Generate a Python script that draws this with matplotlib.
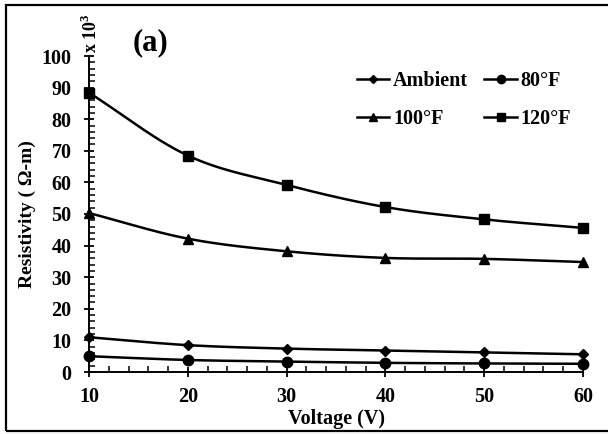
import numpy as np
import matplotlib
matplotlib.use("Agg")
import matplotlib.pyplot as plt
from matplotlib.lines import Line2D
from matplotlib.patches import Rectangle
from matplotlib.ticker import MultipleLocator

plt.rcParams['font.family'] = ['Liberation Serif', 'DejaVu Serif']
plt.rcParams['font.weight'] = 'bold'
plt.rcParams['mathtext.fontset'] = 'custom'
plt.rcParams['mathtext.rm'] = 'Liberation Serif:bold'
plt.rcParams['mathtext.bf'] = 'Liberation Serif:bold'

voltage = [10, 20, 30, 40, 50, 60]
ambient = [11.0, 8.5, 7.4, 6.8, 6.2, 5.6]
f80 = [5.0, 3.8, 3.3, 2.9, 2.7, 2.6]
f100 = [50.3, 42.2, 38.2, 36.1, 35.8, 34.8]
f120 = [88.4, 68.5, 59.2, 52.2, 48.3, 45.6]

series = [
    ("Ambient", ambient, "D", 5.5),
    ("80°F", f80, "o", 7.5),
    ("100°F", f100, "^", 7.5),
    ("120°F", f120, "s", 7.0),
]


def smooth(x, y, n=30):
    """Catmull-Rom curve through the points (spreadsheet-style smoothed line)."""
    p = np.column_stack([x, y]).astype(float)
    p = np.vstack([2 * p[0] - p[1], p, 2 * p[-1] - p[-2]])
    out = []
    t = np.linspace(0, 1, n)[:, None]
    for i in range(1, len(p) - 2):
        p0, p1, p2, p3 = p[i - 1], p[i], p[i + 1], p[i + 2]
        c = 0.5 * ((2 * p1) + (-p0 + p2) * t + (2 * p0 - 5 * p1 + 4 * p2 - p3) * t ** 2
                   + (-p0 + 3 * p1 - 3 * p2 + p3) * t ** 3)
        out.append(c if i == 1 else c[1:])
    c = np.vstack(out)
    return c[:, 0], c[:, 1]


W, H = 608, 434
fig = plt.figure(figsize=(W / 100, H / 100), dpi=100)
ax = fig.add_axes([89 / W, 1 - 372 / H, (583 - 89) / W, (372 - 56) / H])

handles = {}
for name, vals, mk, ms in series:
    sx, sy = smooth(voltage, vals)
    ax.plot(sx, sy, color='black', lw=1.8, solid_capstyle='butt', clip_on=False)
    ax.plot(voltage, vals, ls='none', marker=mk, ms=ms, color='black', clip_on=False, zorder=3)
    handles[name] = Line2D([], [], color='black', lw=1.8, marker=mk, ms=ms * 0.8, label=name)

ax.set_xlim(10, 60)
ax.set_ylim(0, 100)
ax.xaxis.set_major_locator(MultipleLocator(10))
ax.xaxis.set_minor_locator(MultipleLocator(2))
ax.yaxis.set_major_locator(MultipleLocator(10))
ax.yaxis.set_minor_locator(MultipleLocator(2))

for s in ['top', 'right']:
    ax.spines[s].set_visible(False)
for s in ['left', 'bottom']:
    ax.spines[s].set_linewidth(1.4)

ax.tick_params(which='major', direction='inout', length=7, width=1.3, labelsize=14.5)
ax.tick_params(which='minor', direction='in', length=4, width=1.1)
ax.tick_params(axis='x', which='major', pad=7)
ax.tick_params(axis='y', which='major', pad=9)
for lb in ax.get_xticklabels() + ax.get_yticklabels():
    lb.set_fontweight('bold')

ax.set_xlabel("Voltage (V)", fontsize=14.5, fontweight='bold', labelpad=2)
fig.text(27 / W, 1 - 214 / H, "Resistivity ( Ω-m)", rotation=90, fontsize=14,
         fontweight='bold', ha='center', va='center')
fig.text(91 / W, 1 - 33 / H, r"x 10$^{\mathbf{3}}$", rotation=90, fontsize=13,
         fontweight='bold', ha='center', va='center')
fig.text(150 / W, 1 - 43 / H, "(a)", fontsize=22, fontweight='bold',
         ha='center', va='center')

# two-row legend: Ambient / 80°F on top, 100°F / 120°F below
order = ["Ambient", "100°F", "80°F", "120°F"]
fig.legend(handles=[handles[k] for k in order], ncol=2, loc='upper left',
           bbox_to_anchor=(357 / W, 1 - 71 / H), frameon=False,
           prop={'size': 14.5, 'weight': 'bold'}, handlelength=1.6,
           handletextpad=0.2, columnspacing=0.8, labelspacing=0.9,
           borderpad=0, borderaxespad=0)

# outer frame
fig.patches.append(Rectangle((6 / W, 1 - 431 / H), 1.2, (431 - 5) / H,
                             transform=fig.transFigure, fill=False,
                             edgecolor='black', lw=1.6))

fig.savefig("out.png", dpi=100)
